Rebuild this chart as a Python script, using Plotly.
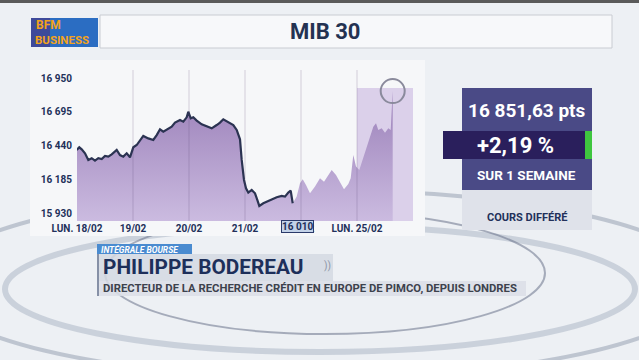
import plotly.graph_objects as go

# ---------------- data ----------------
# x in trading-day units (0 = start of Mon 18/02, 5 = start of Mon 25/02)
x_px = [76.7, 79.3, 81.7, 85, 88.3, 91.7, 95, 98.3, 101.7, 105, 108.3, 111.7, 116.7, 120, 123.3,
        126.7, 130, 133.3, 136.7, 140, 143.3, 148.3, 153.3, 156.7, 160, 163.3, 166.7, 171.7, 175,
        180, 183.3, 186.7, 188.3, 190.7, 193.3, 196.7, 201.7, 206.7, 211.7, 216.7, 220, 223.3,
        226.7, 230, 233.3, 236.7, 240, 241.7, 244, 246, 248.3, 251.7, 255, 257.3, 259.3, 263.3,
        266.7, 271.7, 276.7, 281.7, 285, 288.3, 290.7, 292.7,
        296.7, 300, 302.7, 306, 310, 315, 320, 324, 328.3, 331.7, 336, 340, 344, 348.3, 350.7,
        353.3, 356, 359.3, 362.7, 366, 368.3, 370.7, 373.3, 376, 378.3, 381.7, 385, 388.3, 390.7,
        392.7]
values = [16410, 16430, 16415, 16385, 16335, 16348, 16330, 16348, 16342, 16365, 16360, 16377,
          16410, 16372, 16360, 16385, 16355, 16430, 16447, 16485, 16515, 16497, 16485, 16522,
          16565, 16547, 16560, 16585, 16615, 16635, 16622, 16655, 16697, 16647, 16655, 16630,
          16602, 16585, 16572, 16597, 16615, 16640, 16627, 16610, 16597, 16560, 16490, 16335,
          16185, 16122, 16090, 16110, 16085, 16035, 15990, 16010, 16022, 16035, 16055, 16065,
          16060, 16090, 16105, 16010,
          16060, 16160, 16190, 16147, 16085, 16135, 16197, 16172, 16222, 16260, 16222, 16172,
          16115, 16155, 16197, 16372, 16285, 16260, 16335, 16410, 16460, 16522, 16585, 16610,
          16560, 16572, 16540, 16572, 16560, 16851.63]
days = [round((p - 77) / 56, 4) for p in x_px]
line_end = 64  # points drawn with the dark line

day_ticks = [0, 1, 2, 3, 4, 5]
day_labels = ["LUN. 18/02", "19/02", "20/02", "21/02", "22/02", "LUN. 25/02"]
y_ticks = [15930, 16185, 16440, 16695, 16950]
y_labels = ["15 930", "16 185", "16 440", "16 695", "16 950"]

title = "MIB 30"
last_txt = "16 851,63 pts"
change_txt = "+2,19 %"
period_txt = "SUR 1 SEMAINE"
delay_txt = "COURS DIFFÉRÉ"
min_txt = "16 010"
tag_txt = "INTÉGRALE BOURSE"
name_txt = "PHILIPPE BODEREAU"
role_txt = "DIRECTEUR DE LA RECHERCHE CRÉDIT EN EUROPE DE PIMCO, DEPUIS LONDRES"

# ---------------- layout geometry ----------------
Wd, Ht = 639, 360
L, R, T, B = 77, 413, 68, 221
PW, PH = R - L, B - T
FONT = "Roboto, Liberation Sans, Arial"
NAVY = "#22305a"


def px(x):
    return (x - L) / PW


def py(y):
    return (B - y) / PH


def rect(x0, y0, x1, y1, color, layer="below", line=None):
    return dict(type="rect", xref="paper", yref="paper", x0=px(x0), x1=px(x1),
                y0=py(y1), y1=py(y0), fillcolor=color, layer=layer,
                line=line or dict(width=0))


def ell(x0, y0, x1, y1, color, w):
    return dict(type="circle", xref="paper", yref="paper", x0=px(x0), x1=px(x1),
                y0=py(y1), y1=py(y0), line=dict(color=color, width=w), layer="below")


def txt(x, y, s, size, color, xanchor="center", bold=True, italic=False, bg=None, border=None):
    t = s
    if bold:
        t = "<b>" + t + "</b>"
    if italic:
        t = "<i>" + t + "</i>"
    d = dict(x=px(x), y=py(y), xref="paper", yref="paper", text=t, showarrow=False,
             xanchor=xanchor, yanchor="middle", font=dict(family=FONT, size=size, color=color))
    if bg:
        d["bgcolor"] = bg
        d["borderpad"] = 0
    if border:
        d["bordercolor"] = border
        d["borderwidth"] = 1
    return d


fig = go.Figure()

fig.add_trace(go.Scatter(
    x=days, y=values, mode="lines", line=dict(width=0), fill="tozeroy",
    fillgradient=dict(type="vertical", start=15877, stop=16860,
                      colorscale=[[0, "#cbbbe0"], [1, "#9a7fb8"]]),
    hoverinfo="skip", showlegend=False))
fig.add_trace(go.Scatter(
    x=days[:line_end], y=values[:line_end], mode="lines",
    line=dict(color="#2b3352", width=2.2), showlegend=False))
fig.add_trace(go.Scatter(
    x=[days[-1]], y=[values[-1]], mode="markers",
    marker=dict(symbol="circle-open", size=24, color="#8a8a9c", line=dict(width=2)),
    showlegend=False))

shapes = []
# background decoration (dial)
shapes.append(ell(-70, 190, 710, 378, "rgba(120,132,155,0.4)", 4))
shapes.append(ell(5, 226, 635, 352, "rgba(160,170,188,0.45)", 6))
shapes.append(ell(105, 212, 545, 334, "rgba(105,115,138,0.55)", 2))
# top strip
shapes.append(rect(0, 0, 639, 3, "#5a5a5a"))
# title bar
shapes.append(rect(100, 15, 612, 48, "#f7f8fa", line=dict(color="#c9ccd2", width=1)))
# logo
shapes.append(rect(31, 18, 98, 47, "#2b6dc2"))
shapes.append(rect(31, 18, 50, 47, "#3e4a9a"))
# chart panel background
shapes.append(rect(30, 60, 425, 236, "#f6f7f9"))
# current day highlight
shapes.append(dict(type="rect", xref="x", yref="y", x0=5, x1=6, y0=15877, y1=16875,
                   fillcolor="#dbd0ea", line=dict(width=0), layer="below"))
# day separators
for d in day_ticks[1:]:
    shapes.append(dict(type="line", xref="x", yref="y", x0=d, x1=d, y0=15877, y1=17010,
                       line=dict(color="rgba(80,62,115,0.22)", width=1), layer="above"))
# right panel
shapes.append(rect(462, 88, 592, 190, "#4a4a86"))
shapes.append(rect(443, 131, 585, 159, "#2a1f5c"))
shapes.append(rect(585, 131, 592, 159, "#3fc63f"))
shapes.append(rect(462, 190, 592, 230, "#dfe2ea"))
# lower caption
shapes.append(rect(97, 254, 333, 281, "rgba(212,217,226,0.85)"))
shapes.append(rect(97, 281, 526, 296, "rgba(218,222,230,0.85)"))
shapes.append(rect(97, 254, 99, 296, "#8690a6"))
shapes.append(rect(97, 244, 192, 254, "#4a8bd0"))

ann = [
    txt(325, 32, title, 22, "#243252"),
    txt(34, 25, "BFM", 12, "#f2a31b", xanchor="left"),
    txt(33, 40, "BUSINESS", 11.5, "#f2a31b", xanchor="left"),
    txt(527, 110, last_txt, 19, "white"),
    txt(515, 145, change_txt, 22, "white"),
    txt(526, 175, period_txt, 13.5, "white"),
    txt(527, 217, delay_txt, 11, NAVY),
    txt(297, 226, min_txt, 10, NAVY, bg="#c3d2e8", border="#2b3a6a"),
    txt(99, 249, tag_txt, 8.5, "white", xanchor="left", italic=True),
    txt(101, 267, name_txt, 20.8, "#1d2f5a", xanchor="left"),
    txt(322, 266, "))", 10, "#8d95a5", xanchor="left", bold=False),
    txt(101, 288, role_txt, 11.3, "#3d424d", xanchor="left"),
]

fig.update_layout(
    width=Wd, height=Ht, margin=dict(l=L, r=Wd - R, t=T, b=Ht - B),
    paper_bgcolor="#edf0f4", plot_bgcolor="rgba(0,0,0,0)",
    shapes=shapes, annotations=ann, showlegend=False,
    xaxis=dict(range=[0, 6], tickvals=day_ticks,
               ticktext=["<b>" + t + "</b>" for t in day_labels],
               tickfont=dict(family=FONT, size=10, color=NAVY),
               showgrid=False, zeroline=False, showline=False, ticks="",
               ticklabelstandoff=0, fixedrange=True),
    yaxis=dict(range=[15877, 17025], tickvals=y_ticks,
               ticktext=["<b>" + t + "</b>" for t in y_labels],
               tickfont=dict(family=FONT, size=10, color=NAVY),
               showgrid=False, zeroline=False, showline=False, ticks="",
               ticklabelstandoff=4, fixedrange=True),
)

fig.write_html("out.html")
